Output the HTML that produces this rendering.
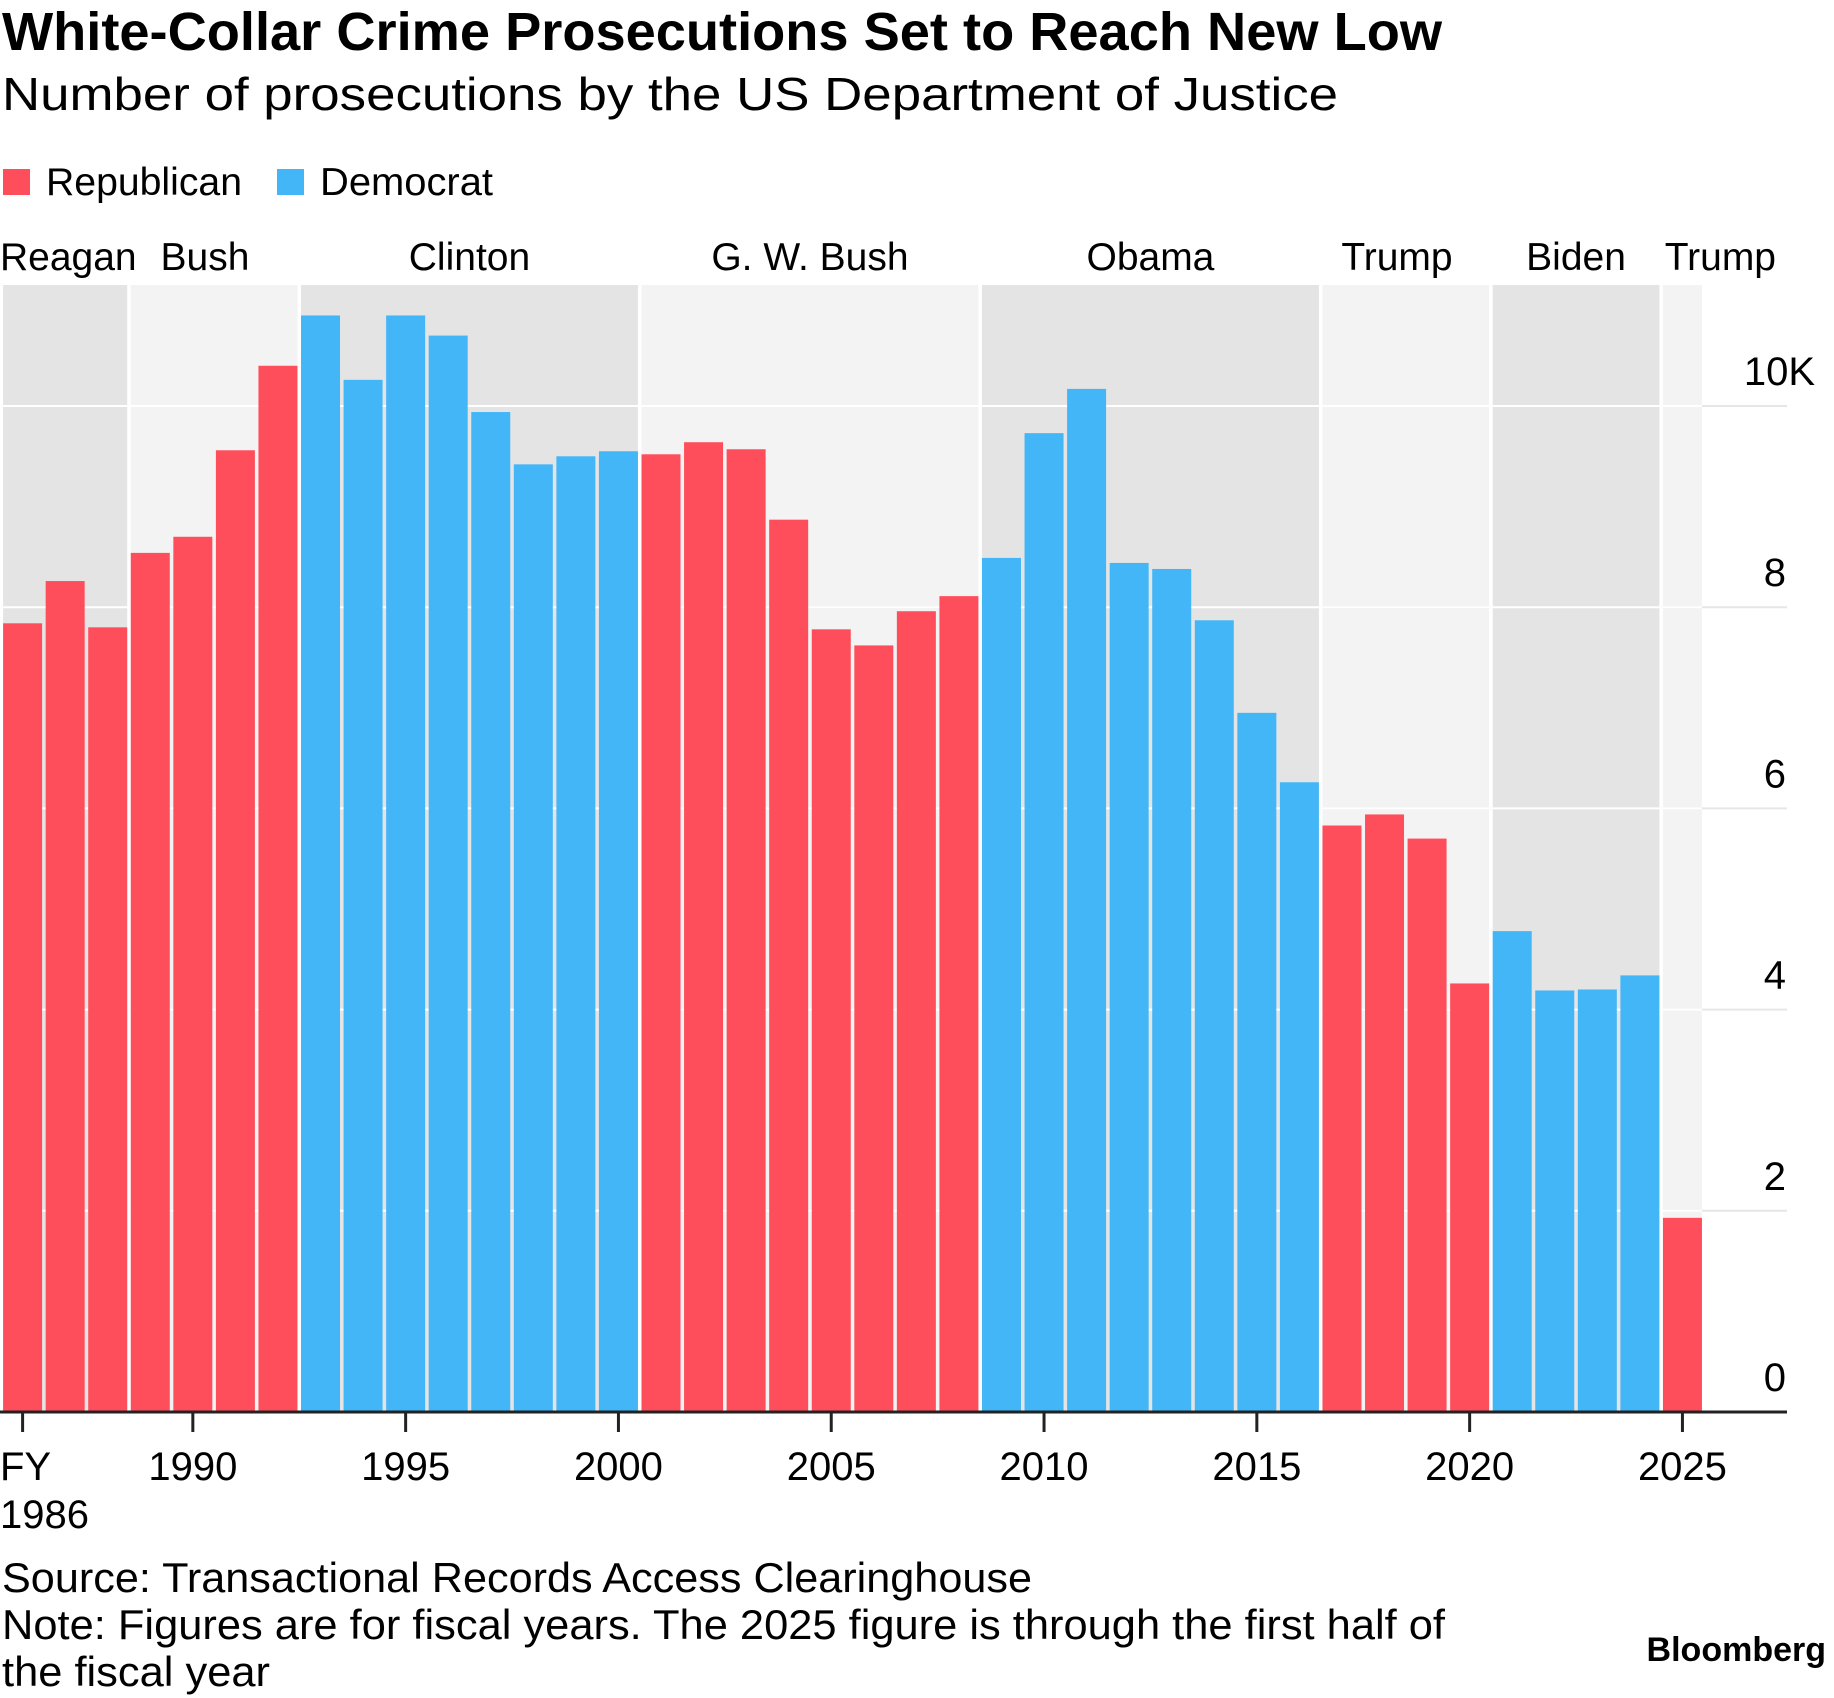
<!DOCTYPE html>
<html><head><meta charset="utf-8">
<style>
html,body{margin:0;padding:0;background:#fff;}
svg{display:block;font-family:"Liberation Sans",Arial,sans-serif;}
</style></head>
<body>
<svg id="chart" width="1834" height="1698" viewBox="0 0 1834 1698" xmlns="http://www.w3.org/2000/svg">
<text x="2" y="50" font-size="54" font-weight="bold" fill="#000" textLength="1440" lengthAdjust="spacingAndGlyphs">White-Collar Crime Prosecutions Set to Reach New Low</text>
<text x="2" y="110" font-size="46" fill="#000" textLength="1336" lengthAdjust="spacingAndGlyphs">Number of prosecutions by the US Department of Justice</text>
<g>
<rect x="3" y="169" width="27" height="26" fill="#ff4e5b"/>
<text x="46" y="195" font-size="39" fill="#000" textLength="196" lengthAdjust="spacingAndGlyphs">Republican</text>
<rect x="277" y="169" width="27" height="26" fill="#43b6f8"/>
<text x="320" y="195" font-size="39" fill="#000" textLength="173" lengthAdjust="spacingAndGlyphs">Democrat</text>
</g>
<g id="bg"></g><g id="grid"></g><g id="bars"></g><g id="axis"></g>
<text x="2" y="1592" font-size="42" fill="#000" textLength="1030" lengthAdjust="spacingAndGlyphs">Source: Transactional Records Access Clearinghouse</text>
<text x="2" y="1639" font-size="42" fill="#000" textLength="1443" lengthAdjust="spacingAndGlyphs">Note: Figures are for fiscal years. The 2025 figure is through the first half of</text>
<text x="2" y="1686" font-size="42" fill="#000" textLength="268" lengthAdjust="spacingAndGlyphs">the fiscal year</text>
<text x="1826" y="1661" font-size="34" font-weight="bold" fill="#000" text-anchor="end">Bloomberg</text>
</svg>
<script>
const years = [1986,1987,1988,1989,1990,1991,1992,1993,1994,1995,1996,1997,1998,1999,2000,2001,2002,2003,2004,2005,2006,2007,2008,2009,2010,2011,2012,2013,2014,2015,2016,2017,2018,2019,2020,2021,2022,2023,2024,2025];
const prosecutions = [7.84,8.26,7.8,8.54,8.7,9.56,10.4,10.9,10.26,10.9,10.7,9.94,9.42,9.5,9.55,9.52,9.64,9.57,8.87,7.78,7.62,7.96,8.11,8.49,9.73,10.17,8.44,8.38,7.87,6.95,6.26,5.83,5.94,5.7,4.26,4.78,4.19,4.2,4.34,1.93];
const parties = ["R","R","R","R","R","R","R","D","D","D","D","D","D","D","D","R","R","R","R","R","R","R","R","D","D","D","D","D","D","D","D","R","R","R","R","D","D","D","D","R"];
const presidents = ["Reagan","Bush","Clinton","G. W. Bush","Obama","Trump","Biden","Trump"];
const termStart = [1986,1989,1993,2001,2009,2017,2021,2025];
const termEnd = [1988,1992,2000,2008,2016,2020,2024,2025];
const yTicks = [0,2,4,6,8,10];
const yTickLabels = ["0","2","4","6","8","10K"];
const xTicks = [1986,1990,1995,2000,2005,2010,2015,2020,2025];
const xTickLabels = ["FY","1990","1995","2000","2005","2010","2015","2020","2025"];

const NS="http://www.w3.org/2000/svg";
const pitch=42.56, bw=39, base=1412, pxPerK=100.6, plotTop=285;
const xC = y => 22.6 + (y-1986)*pitch;
const yS = v => base - v*pxPerK;
function mk(tag, parent, attrs){const e=document.createElementNS(NS,tag);for(const k in attrs)e.setAttribute(k,attrs[k]);parent.appendChild(e);return e;}
const bgG=document.getElementById('bg'), gridG=document.getElementById('grid'), barsG=document.getElementById('bars'), axisG=document.getElementById('axis');
const svgEl=document.getElementById('chart');

presidents.forEach((p,i)=>{
  const x0=xC(termStart[i])-bw/2, x1=xC(termEnd[i])+bw/2;
  const r=mk('rect',bgG,{x:x0,y:plotTop,width:x1-x0,height:base-plotTop,fill:i%2===0?'#e4e4e4':'#f3f3f3'});
  
  
  let tx=(x0+x1)/2, anchor='middle';
  if(i===0){tx=0;anchor='start';}
  if(i===1){tx=205;}
  if(i===5){tx=1397;}
  if(i===presidents.length-1){tx=1776;anchor='end';}
  const t=mk('text',svgEl,{x:tx,y:270,'font-size':39,'text-anchor':anchor,fill:'#000'});
  t.textContent=p;
  
  
});

yTicks.forEach((v,i)=>{
  const y=yS(v);
  if(v>0){
    const g=mk('line',gridG,{x1:0,x2:1787,y1:y,y2:y,stroke:'#e6e6e6','stroke-width':2});
    
    
    const w=mk('line',gridG,{x1:0,x2:xC(2025)+bw/2,y1:y,y2:y,stroke:'#ffffff','stroke-width':2});
    
    
  }
  const t=mk('text',axisG,{x:i===yTicks.length-1?1815:1786,y:y-21,'font-size':40,'text-anchor':'end',fill:'#000'});
  t.textContent=yTickLabels[i];
  
  
});

years.forEach((yr,i)=>{
  const v=prosecutions[i];
  const r=mk('rect',barsG,{x:xC(yr)-bw/2,y:yS(v),width:bw,height:v*pxPerK,fill:parties[i]==='R'?'#ff4e5b':'#43b6f8'});
  
  
});

const ax=mk('line',axisG,{x1:0,x2:1787,y1:base,y2:base,stroke:'#222','stroke-width':3});


xTicks.forEach((yr,i)=>{
  const x=xC(yr);
  const tk=mk('line',axisG,{x1:x,x2:x,y1:base,y2:base+20,stroke:'#222','stroke-width':3});
  
  
  const t=mk('text',axisG,{x:i===0?0:x,y:1480,'font-size':40,'text-anchor':i===0?'start':'middle',fill:'#000'});
  t.textContent=xTickLabels[i];
  
  
  if(i===0){
    const t2=mk('text',axisG,{x:0,y:1528,'font-size':40,fill:'#000'});
    t2.textContent=String(yr);
    
    
  }
});
</script>
</body></html>
